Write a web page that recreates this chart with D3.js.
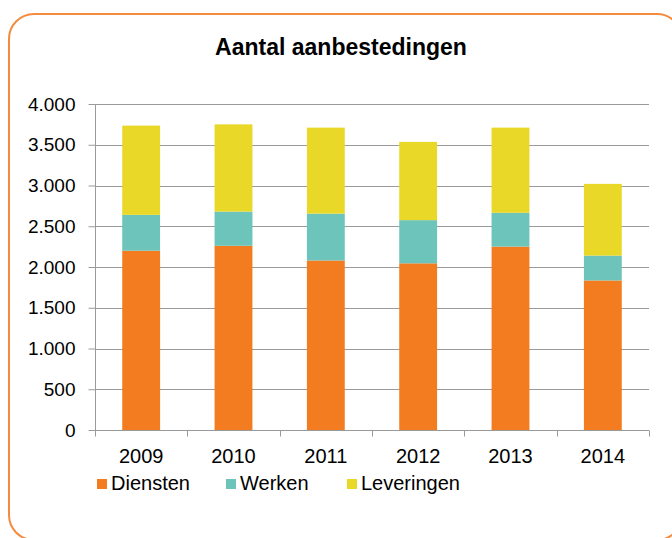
<!DOCTYPE html>
<html>
<head>
<meta charset="utf-8">
<script src="https://cdn.jsdelivr.net/npm/d3@7"></script>
<style>
  html, body { margin: 0; padding: 0; background: #ffffff; }
  svg { display: block; font-family: "Liberation Sans", Arial, sans-serif; }
</style>
</head>
<body>
<svg id="chart" width="672" height="538"></svg>
<script>
const years = ["2009", "2010", "2011", "2012", "2013", "2014"];
const seriesNames = ["Diensten", "Werken", "Leveringen"];
const diensten = [2200, 2260, 2080, 2045, 2250, 1835];
const werken = [440, 420, 575, 530, 415, 305];
const leveringen = [1095, 1070, 1055, 960, 1045, 880];
const colors = ["#F47C20", "#6CC4BA", "#EAD828"];
const yTicks = [0, 500, 1000, 1500, 2000, 2500, 3000, 3500, 4000];
const title = "Aantal aanbestedingen";

const svg = d3.select("#chart");
const W = 672, H = 538;
const margin = { left: 95, right: 23, top: 104, bottom: 108 };

// frame
svg.append("rect")
  .attr("x", 9).attr("y", 14)
  .attr("width", 673).attr("height", 526)
  .attr("rx", 25).attr("ry", 25)
  .attr("fill", "#fff")
  .attr("stroke", "#F58B3E").attr("stroke-width", 2);

svg.append("text")
  .attr("x", 341).attr("y", 55)
  .attr("text-anchor", "middle")
  .attr("font-weight", "bold")
  .attr("font-size", 23)
  .attr("fill", "#000")
  .text(title);

const table = years.map((y, i) => ({ year: y, Diensten: diensten[i], Werken: werken[i], Leveringen: leveringen[i] }));
const stacked = d3.stack().keys(seriesNames)(table);

const x = d3.scaleBand().domain(years).range([margin.left, W - margin.right]).paddingInner(0.59).paddingOuter(0.295);
const y = d3.scaleLinear().domain([0, 4000]).range([H - margin.bottom, margin.top]);

// gridlines
svg.append("g")
  .selectAll("line").data(yTicks.filter(d => d > 0)).join("line")
  .attr("x1", margin.left).attr("x2", W - margin.right)
  .attr("y1", d => Math.round(y(d)) + 0.5).attr("y2", d => Math.round(y(d)) + 0.5)
  .attr("stroke", "#9a9a9a").attr("stroke-width", 1);

// bars
svg.append("g").selectAll("g").data(stacked).join("g")
  .attr("fill", (d, i) => colors[i])
  .selectAll("rect").data(d => d).join("rect")
  .attr("x", d => x(d.data.year))
  .attr("width", x.bandwidth())
  .attr("y", d => y(d[1]))
  .attr("height", d => y(d[0]) - y(d[1]));

// y axis
const yAxis = d3.axisLeft(y).tickValues(yTicks).tickSize(7).tickPadding(13)
  .tickFormat(d => d3.format(",")(d).replace(/,/g, "."));
const gy = svg.append("g").attr("transform", `translate(${margin.left + 0.5},0)`).call(yAxis);
gy.select(".domain").attr("stroke", "#9a9a9a").attr("d", `M0,${y(4000)}V${y(0)}`);
gy.selectAll(".tick line").attr("stroke", "#9a9a9a");
gy.selectAll(".tick text").attr("font-size", 19).attr("fill", "#000").attr("font-family", "Liberation Sans, Arial, sans-serif");

// x axis
const step = x.step();
const xAxisG = svg.append("g").attr("transform", `translate(0,${Math.round(y(0)) + 0.5})`);
xAxisG.append("line").attr("x1", margin.left).attr("x2", W - margin.right).attr("stroke", "#9a9a9a");
const bounds = d3.range(years.length + 1).map(i => margin.left + i * step);
xAxisG.selectAll("line.t").data(bounds).join("line").attr("class", "t")
  .attr("x1", d => Math.round(d) + 0.5).attr("x2", d => Math.round(d) + 0.5)
  .attr("y1", 0).attr("y2", 6).attr("stroke", "#9a9a9a");
xAxisG.selectAll("text").data(years).join("text")
  .attr("x", d => x(d) + x.bandwidth() / 2)
  .attr("y", 32)
  .attr("text-anchor", "middle")
  .attr("font-size", 20)
  .attr("fill", "#000")
  .text(d => d);

// legend
const legendX = [97, 226, 347];
const lg = svg.append("g").selectAll("g").data(seriesNames).join("g")
  .attr("transform", (d, i) => `translate(${legendX[i]},479)`);
lg.append("rect").attr("width", 10).attr("height", 10).attr("fill", (d, i) => colors[i]);
lg.append("text").attr("x", 14).attr("y", 11).attr("font-size", 20).attr("fill", "#000").text(d => d);
</script>
</body>
</html>
